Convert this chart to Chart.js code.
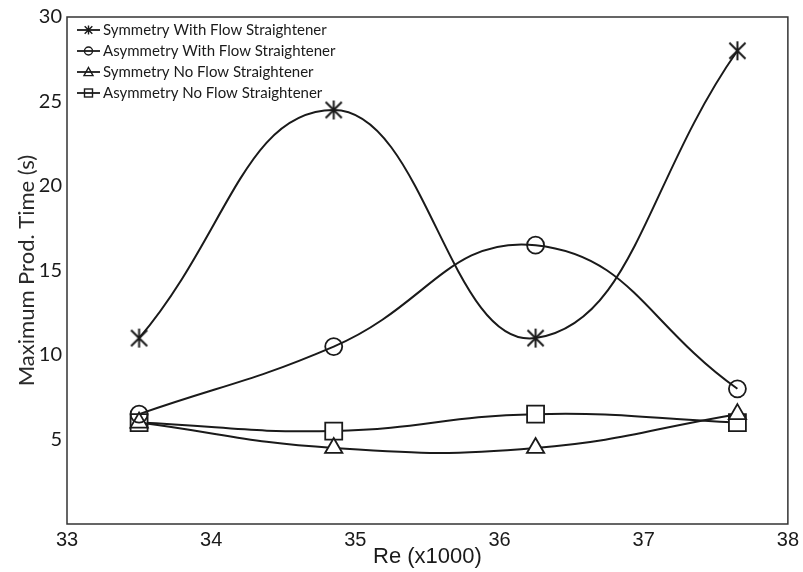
<!DOCTYPE html>
<html lang="en">
<head>
    <meta charset="UTF-8">
    <title>Maximum Prod. Time vs Re</title>
    <script src="https://cdn.jsdelivr.net/npm/chart.js"></script>
    <style>
        html, body {
            margin: 0;
            padding: 0;
            background: white;
        }
        .chart-container {
            width: 803px;
            height: 572px;
        }
    </style>
</head>
<body>
    <div class="chart-container">
        <canvas id="myChart"></canvas>
    </div>

    <script>
        // Re (x1000) values
        const reValues = [33.5, 34.85, 36.25, 37.65];

        const symWithFS = [11, 24.5, 11, 28];
        const asymWithFS = [6.5, 10.5, 16.5, 8];
        const symNoFS = [6, 4.5, 4.5, 6.5];
        const asymNoFS = [6, 5.5, 6.5, 6];

        const seriesNames = [
            'Symmetry With Flow Straightener',
            'Asymmetry With Flow Straightener',
            'Symmetry No Flow Straightener',
            'Asymmetry No Flow Straightener'
        ];

        const yTicks = [5, 10, 15, 20, 25, 30];
        const xTicks = [33, 34, 35, 36, 37, 38];

        const ink = '#1a1a1a';

        // six-arm asterisk used for the first series
        function drawAsterisk(ctx, x, y, r, k) {
            ctx.beginPath();
            ctx.moveTo(x, y - r);
            ctx.lineTo(x, y + r);
            const d = r * k;
            ctx.moveTo(x - d, y - d);
            ctx.lineTo(x + d, y + d);
            ctx.moveTo(x + d, y - d);
            ctx.lineTo(x - d, y + d);
            ctx.stroke();
        }

        function makeAsterisk(r, w) {
            const c = document.createElement('canvas');
            c.width = c.height = Math.ceil(2 * r + 4);
            const g = c.getContext('2d');
            g.strokeStyle = ink;
            g.lineWidth = w;
            drawAsterisk(g, c.width / 2, c.height / 2, r, 0.85);
            return c;
        }

        const toPoints = arr => arr.map((v, i) => ({ x: reValues[i], y: v }));

        const frame = {
            id: 'frame',
            afterDraw(chart) {
                const { ctx, chartArea: a } = chart;
                ctx.save();
                ctx.strokeStyle = '#333';
                ctx.lineWidth = 1.5;
                ctx.strokeRect(a.left, a.top, a.right - a.left, a.bottom - a.top);
                ctx.restore();
            }
        };

        // legend drawn as "line - marker - text", inside the top left corner
        const lineLegend = {
            id: 'lineLegend',
            afterDraw(chart) {
                const { ctx, chartArea: a } = chart;
                ctx.save();
                ctx.font = '15px Lato, "Open Sans", sans-serif';
                ctx.textBaseline = 'middle';
                ctx.fillStyle = ink;
                ctx.strokeStyle = ink;
                const rowY = [30, 51, 72, 93];
                chart.data.datasets.forEach((ds, i) => {
                    const y = rowY[i];
                    const x0 = a.left + 10, x1 = a.left + 33, cx = (x0 + x1) / 2;
                    ctx.lineWidth = 1.8;
                    ctx.beginPath();
                    ctx.moveTo(x0, y);
                    ctx.lineTo(x1, y);
                    ctx.stroke();
                    ctx.lineWidth = 1.4;
                    const s = 4.5;
                    if (i === 0) {
                        drawAsterisk(ctx, cx, y, s, 0.85);
                    } else if (i === 1) {
                        ctx.beginPath();
                        ctx.arc(cx, y, s - 0.5, 0, Math.PI * 2);
                        ctx.stroke();
                    } else if (i === 2) {
                        ctx.beginPath();
                        ctx.moveTo(cx, y - s);
                        ctx.lineTo(cx + s, y + s * 0.8);
                        ctx.lineTo(cx - s, y + s * 0.8);
                        ctx.closePath();
                        ctx.stroke();
                    } else {
                        ctx.strokeRect(cx - s + 0.5, y - s + 0.5, 2 * s - 1, 2 * s - 1);
                    }
                    ctx.fillText(ds.label, x1 + 3, y);
                });
                ctx.restore();
            }
        };

        const common = {
            borderColor: ink,
            borderWidth: 2,
            tension: 0.45,
            fill: false,
            pointBorderColor: ink,
            pointBorderWidth: 1.8
        };

        const data = {
            datasets: [
                Object.assign({}, common, {
                    label: seriesNames[0],
                    data: toPoints(symWithFS),
                    pointStyle: makeAsterisk(9.5, 2)
                }),
                Object.assign({}, common, {
                    label: seriesNames[1],
                    data: toPoints(asymWithFS),
                    pointStyle: 'circle',
                    pointRadius: 8.5,
                    pointBackgroundColor: 'rgba(255,255,255,0)'
                }),
                Object.assign({}, common, {
                    label: seriesNames[2],
                    data: toPoints(symNoFS),
                    pointStyle: 'triangle',
                    pointRadius: 10,
                    pointBackgroundColor: 'white'
                }),
                Object.assign({}, common, {
                    label: seriesNames[3],
                    data: toPoints(asymNoFS),
                    pointStyle: 'rect',
                    pointRadius: 12,
                    pointBackgroundColor: 'white'
                })
            ]
        };

        new Chart(document.getElementById('myChart'), {
            type: 'line',
            data: data,
            options: {
                responsive: true,
                maintainAspectRatio: false,
                animation: false,
                layout: { padding: { left: 0, top: 14, right: 12, bottom: 0 } },
                plugins: {
                    legend: { display: false },
                    tooltip: { enabled: false }
                },
                scales: {
                    x: {
                        type: 'linear',
                        min: 33,
                        max: 38,
                        afterBuildTicks: s => { s.ticks = xTicks.map(v => ({ value: v })); },
                        afterFit: s => { s.height = 48; },
                        grid: { display: false, drawTicks: false },
                        border: { display: false },
                        ticks: {
                            color: ink,
                            padding: 4,
                            font: { family: '"Liberation Sans Narrow", "Liberation Sans", sans-serif', size: 20 }
                        },
                        title: {
                            display: true,
                            text: 'Re (x1000)',
                            color: ink,
                            padding: { top: 0, bottom: 2 },
                            font: { family: '"Liberation Sans Narrow", "Liberation Sans", sans-serif', size: 22 }
                        }
                    },
                    y: {
                        min: 0,
                        max: 30,
                        afterBuildTicks: s => { s.ticks = yTicks.map(v => ({ value: v })); },
                        afterFit: s => { s.width = 67; },
                        grid: { display: false, drawTicks: false },
                        border: { display: false },
                        ticks: {
                            color: ink,
                            padding: 5,
                            font: { family: 'Lato, "Open Sans", sans-serif', size: 20 }
                        },
                        title: {
                            display: true,
                            text: 'Maximum Prod. Time (s)',
                            color: '#2a2a2a',
                            padding: { top: 14, bottom: 0 },
                            font: { family: 'Lato, "Open Sans", sans-serif', size: 22 }
                        }
                    }
                }
            },
            plugins: [frame, lineLegend]
        });
    </script>
</body>
</html>
